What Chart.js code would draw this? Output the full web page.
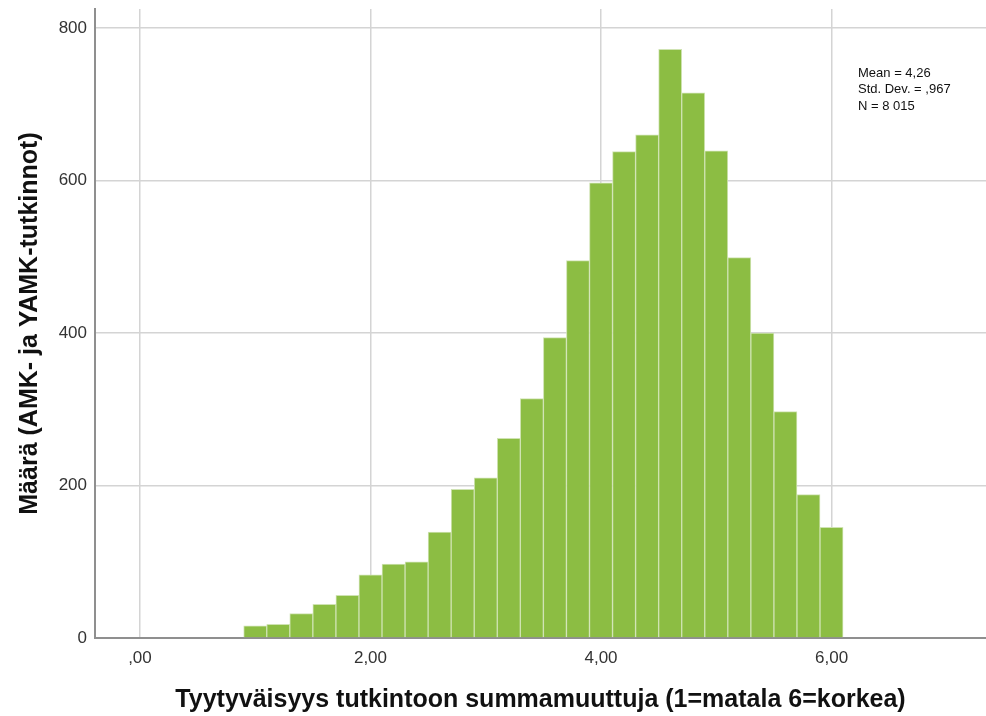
<!DOCTYPE html>
<html>
<head>
<meta charset="utf-8">
<script src="https://cdn.jsdelivr.net/npm/chart.js@4.4.1/dist/chart.umd.min.js"></script>
<style>
  html, body { margin: 0; padding: 0; background: #fff; }
  #wrap { width: 986px; height: 716px; }
</style>
</head>
<body>
<div id="wrap"><canvas id="myChart" width="986" height="716"></canvas></div>
<script>
// bin midpoints (bin width 0,2)
const binCenters = [1.0, 1.2, 1.4, 1.6, 1.8, 2.0, 2.2, 2.4, 2.6, 2.8, 3.0, 3.2, 3.4,
  3.6, 3.8, 4.0, 4.2, 4.4, 4.6, 4.8, 5.0, 5.2, 5.4, 5.6, 5.8, 6.0];
// frequencies
const counts = [16, 18, 32, 44, 56, 83, 97, 100, 139, 195, 210, 262, 314,
  394, 495, 597, 638, 660, 772, 715, 639, 499, 400, 297, 188, 145];
const xTicks = [0, 2, 4, 6];
const yTicks = [0, 200, 400, 600, 800];
const statsLines = ["Mean = 4,26", "Std. Dev. = ,967", "N = 8 015"];

const xTitle = "Tyytyväisyys tutkintoon summamuuttuja (1=matala 6=korkea)";
const yTitle = "Määrä (AMK- ja YAMK-tutkinnot)";
const font = "'Liberation Sans', Arial, sans-serif";

// format like SPSS: ,00  2,00 ...
function fmt(v) {
  let s = v.toFixed(2).replace(".", ",");
  if (s.startsWith("0,")) s = s.slice(1);
  return s;
}

// text box with the statistics in the top right corner
const statsBox = {
  id: "statsBox",
  afterDraw(chart) {
    const ctx = chart.ctx;
    ctx.save();
    ctx.fillStyle = "#111";
    ctx.font = "13px " + font;
    ctx.textBaseline = "middle";
    statsLines.forEach((t, i) => ctx.fillText(t, 858, 73 + i * 16.5));
    ctx.restore();
  }
};

const points = binCenters.map((c, i) => ({ x: c, y: counts[i] }));

new Chart(document.getElementById("myChart").getContext("2d"), {
  type: "bar",
  data: {
    datasets: [{
      label: "Määrä",
      data: points,
      backgroundColor: "#8cbd43",
      borderColor: "#cfe3b2",
      borderWidth: 1,
      barPercentage: 1,
      categoryPercentage: 1
    }]
  },
  options: {
    responsive: false,
    animation: false,
    layout: { padding: { top: 9, right: 0, left: 0, bottom: 0 } },
    plugins: { legend: { display: false }, tooltip: { enabled: false } },
    scales: {
      x: {
        type: "linear",
        offset: false,
        min: -0.39,
        max: 7.34,
        afterBuildTicks: (axis) => { axis.ticks = xTicks.map(v => ({ value: v })); },
        afterFit: (axis) => {
          axis.height = 78;
          axis.paddingLeft = 0;
          axis.paddingRight = 0;
        },
        grid: { color: "#d4d4d4", lineWidth: 1.5, drawTicks: false, offset: false },
        border: { color: "#8f8f8f", width: 2 },
        ticks: {
          padding: 10,
          color: "#333",
          font: { family: font, size: 17 },
          maxRotation: 0,
          callback: (v) => fmt(v)
        },
        title: {
          display: true,
          text: xTitle,
          color: "#111",
          font: { family: font, size: 25, weight: "bold" },
          padding: { top: 0, bottom: 1 }
        }
      },
      y: {
        min: 0,
        max: 825,
        afterBuildTicks: (axis) => { axis.ticks = yTicks.map(v => ({ value: v })); },
        afterFit: (axis) => {
          axis.width = 95;
          // no extra room for the top tick label
          axis.paddingTop = 0;
          axis.paddingBottom = 0;
        },
        grid: { color: "#d4d4d4", lineWidth: 1.5, drawTicks: false },
        border: { color: "#8f8f8f", width: 2 },
        ticks: {
          padding: 8,
          color: "#333",
          font: { family: font, size: 17 }
        },
        title: {
          display: true,
          text: yTitle,
          color: "#111",
          font: { family: font, size: 25, weight: "bold" },
          padding: { top: 15, bottom: 0 }
        }
      }
    }
  },
  plugins: [statsBox]
});
</script>
</body>
</html>
